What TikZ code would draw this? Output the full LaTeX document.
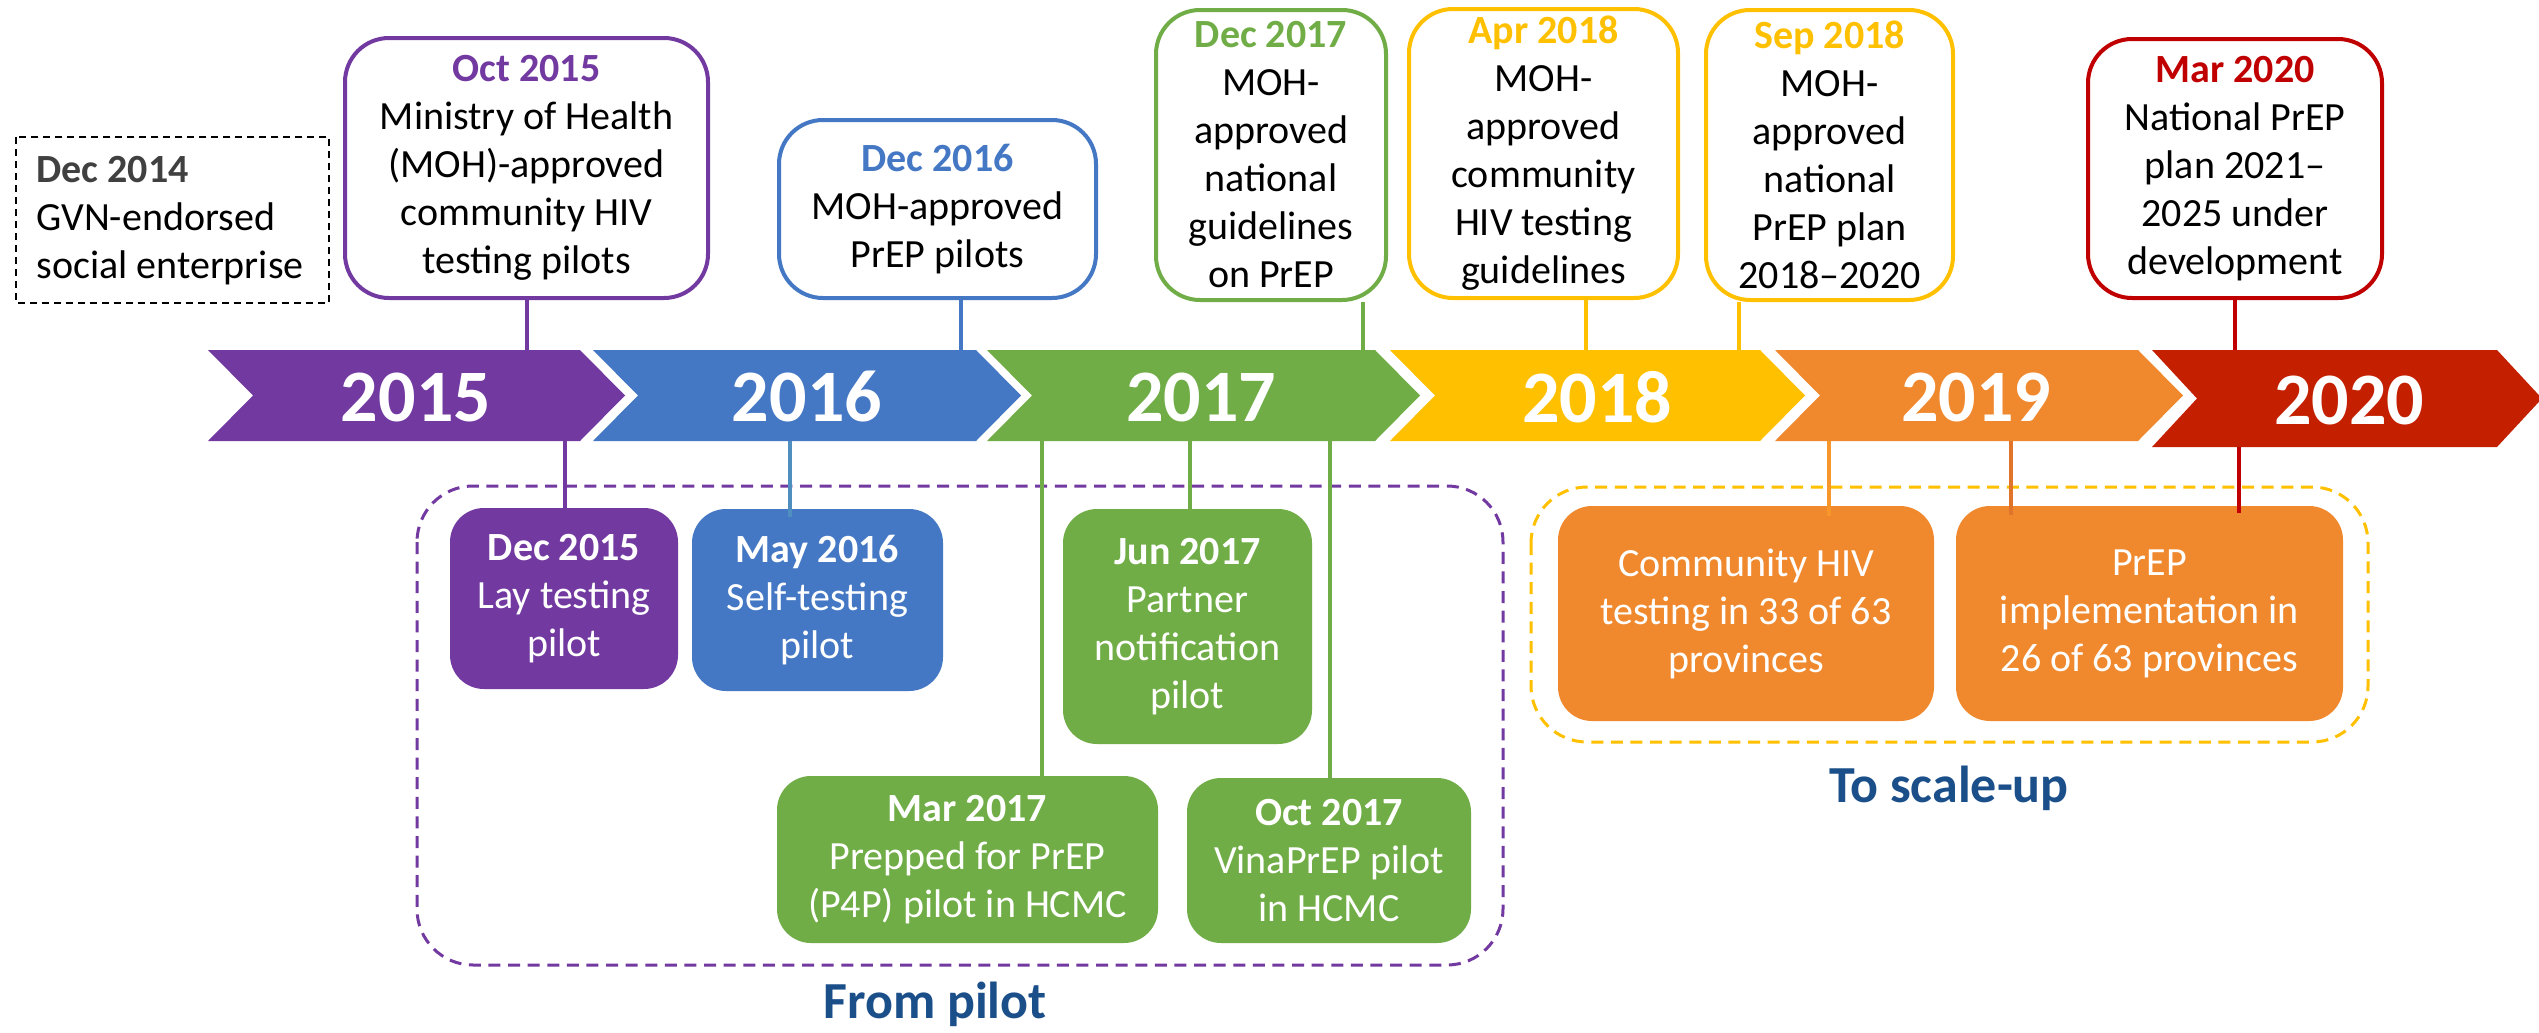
\documentclass[tikz,border=0pt]{standalone}
\usepackage{fontspec}
\setmainfont{Carlito}
\definecolor{cpurple}{HTML}{7239A0}
\definecolor{cblue}{HTML}{4477C4}
\definecolor{cgreen}{HTML}{70AD47}
\definecolor{cgold}{HTML}{FFC000}
\definecolor{corange}{HTML}{F0892E}
\definecolor{cred}{HTML}{C42000}
\definecolor{cdarkred}{HTML}{C00000}
\definecolor{csteel}{HTML}{4F8FBF}
\definecolor{clorange}{HTML}{F7962A}
\definecolor{cdorange}{HTML}{E0742A}
\definecolor{cnavy}{HTML}{1B4F8A}
\definecolor{cgray}{HTML}{404040}
\newcommand\chevseg[5]{\fill[#1] (#2,#4) -- (#3,#4) -- ({#3+45},{(#4+#5)/2}) -- (#3,#5) -- (#2,#5) -- ({#2+45},{(#4+#5)/2}) -- cycle;}
\begin{document}
\begin{tikzpicture}[x=0.5pt,y=-0.5pt,
  body/.style={font=\fontsize{20pt}{24pt}\selectfont, align=center, inner sep=0pt},
  topbox/.style={body, draw=#1, line width=2pt, fill=white, rounded corners=22pt},
  fillbox/.style={body, fill=#1, text=white, rounded corners=17pt},
  conn/.style={draw=#1, line width=2.25pt},
  year/.style={font=\fontsize{37pt}{44pt}\selectfont\bfseries, text=white, inner sep=0pt},
  group/.style={draw=#1, line width=1.5pt, dash pattern=on 6pt off 3.8pt, rounded corners=28pt},
  grouplabel/.style={font=\fontsize{26pt}{30pt}\selectfont\bfseries, text=cnavy, inner sep=0pt}
]
\useasboundingbox[fill=white] (0,0) rectangle (2539,1033);

% timeline band
\chevseg{cpurple}{208}{580}{350}{441}
\chevseg{cblue}{593}{976}{350}{441}
\chevseg{cgreen}{987}{1375}{350}{441}
\chevseg{cgold}{1390}{1760}{350}{441}
\chevseg{corange}{1775}{2138}{350}{441}
\chevseg{cred}{2152}{2497}{350}{447}
\node[year] (y15) at (416,397) {2015};
\node[year] (y16) at (807,397) {2016};
\node[year] (y17) at (1201,397) {2017};
\node[year] (y18) at (1597,397) {2018};
\node[year] (y19) at (1976,397) {2019};
\node[year] (y20) at (2349,400) {2020};
\coordinate (bandtop) at (0,350);
\coordinate (bandbot) at (0,441);
\coordinate (bandbotr) at (0,447);

% groups
\draw[group=cpurple] (417,486) rectangle (1503,965);
\draw[group=cgold] (1531,487) rectangle (2368,742);
\node[grouplabel] (frompilot) at (935,1004) {From pilot};
\node[grouplabel] (toscale) at (1949,788) {To scale-up};

% top boxes
\draw[black, line width=1pt, dash pattern=on 3.5pt off 2.5pt] (16,137) rectangle (329,303);
\node[body, align=left, anchor=west] (dec14) at (36,221)
  {\textcolor{cgray}{\textbf{Dec 2014}}\\GVN-endorsed\\social enterprise};
\node[topbox=cpurple, minimum width=181.5pt, minimum height=130pt] (oct15) at (526.5,168)
  {\textcolor{cpurple}{\textbf{Oct 2015}}\\Ministry of Health\\(MOH)-approved\\community HIV\\testing pilots};
\node[topbox=cblue, minimum width=158.5pt, minimum height=89pt] (dec16) at (937.5,209)
  {\textcolor{cblue}{\textbf{Dec 2016}}\\MOH-approved\\PrEP pilots};
\node[topbox=cgreen, minimum width=115pt, minimum height=145pt] (dec17) at (1271,155)
  {\textcolor{cgreen}{\textbf{Dec 2017}}\\MOH-\\approved\\national\\guidelines\\on PrEP};
\node[topbox=cgold, minimum width=134.5pt, minimum height=144.5pt] (apr18) at (1543.5,153.5)
  {\textcolor{cgold}{\textbf{Apr 2018}}\\MOH-\\approved\\community\\HIV testing\\guidelines};
\node[topbox=cgold, minimum width=123.5pt, minimum height=145pt] (sep18) at (1829.5,155)
  {\textcolor{cgold}{\textbf{Sep 2018}}\\MOH-\\approved\\national\\PrEP plan\\2018–2020};
\node[topbox=cdarkred, minimum width=147pt, minimum height=129.5pt] (mar20) at (2235,168.5)
  {\textcolor{cdarkred}{\textbf{Mar 2020}}\\National PrEP\\plan 2021–\\2025 under\\development};

% bottom boxes
\node[fillbox=cpurple, minimum width=114pt, minimum height=90.5pt] (dec15) at (564,598.5)
  {\textbf{Dec 2015}\\Lay testing\\pilot};
\node[fillbox=cblue, minimum width=125.5pt, minimum height=91pt] (may16) at (817.5,600)
  {\textbf{May 2016}\\Self-testing\\pilot};
\node[fillbox=cgreen, minimum width=124.5pt, minimum height=117.5pt] (jun17) at (1187.5,626.5)
  {\textbf{Jun 2017}\\Partner\\notification\\pilot};
\node[fillbox=cgreen, minimum width=190.5pt, minimum height=83.5pt] (mar17) at (967.5,859.5)
  {\textbf{Mar 2017}\\Prepped for PrEP\\(P4P) pilot in HCMC};
\node[fillbox=cgreen, minimum width=142pt, minimum height=82.5pt] (oct17) at (1329,860.5)
  {\textbf{Oct 2017}\\VinaPrEP pilot\\in HCMC};
\node[fillbox=corange, minimum width=188pt, minimum height=107.5pt] (comm) at (1746,613.5)
  {Community HIV\\testing in 33 of 63\\provinces};
\node[fillbox=corange, minimum width=193.5pt, minimum height=107.5pt] (prep) at (2149.5,613.5)
  {PrEP\\implementation in\\26 of 63 provinces};

% upper connectors
\coordinate (k15) at (527,350);
\coordinate (k16) at (961,350);
\coordinate (k17) at (1363,350);
\coordinate (k18a) at (1586,350);
\coordinate (k18b) at (1739,350);
\coordinate (k20) at (2235,350);
\draw[conn=cpurple] (k15) -- (k15 |- oct15.south);
\draw[conn=cblue] (k16) -- (k16 |- dec16.south);
\draw[conn=cgreen] (k17) -- (k17 |- dec17.south);
\draw[conn=cgold] (k18a) -- (k18a |- apr18.south);
\draw[conn=cgold] (k18b) -- (k18b |- sep18.south);
\draw[conn=cdarkred] (k20) -- (k20 |- mar20.south);

% lower connectors
\coordinate (b15) at (565,441);
\coordinate (b16) at (790,441);
\coordinate (b17a) at (1042,441);
\coordinate (b17b) at (1190,441);
\coordinate (b17c) at (1330,441);
\coordinate (b19a) at (1829,441);
\coordinate (b19b) at (2011,441);
\coordinate (b20) at (2239,447);
\draw[conn=cpurple] (b15) -- (b15 |- dec15.north);
\draw[conn=csteel] (b16) -- ([yshift=-4pt]b16 |- may16.north);
\draw[conn=cgreen] (b17a) -- ([yshift=-2pt]b17a |- mar17.north);
\draw[conn=cgreen] (b17b) -- ([yshift=-2pt]b17b |- jun17.north);
\draw[conn=cgreen] (b17c) -- ([yshift=-2pt]b17c |- oct17.north);
\draw[conn=clorange] (b19a) -- ([yshift=-5pt]b19a |- comm.north);
\draw[conn=cdorange] (b19b) -- ([yshift=-4.5pt]b19b |- prep.north);
\draw[conn=cdarkred] (b20) -- ([yshift=-3.5pt]b20 |- prep.north);
\end{tikzpicture}
\end{document}
